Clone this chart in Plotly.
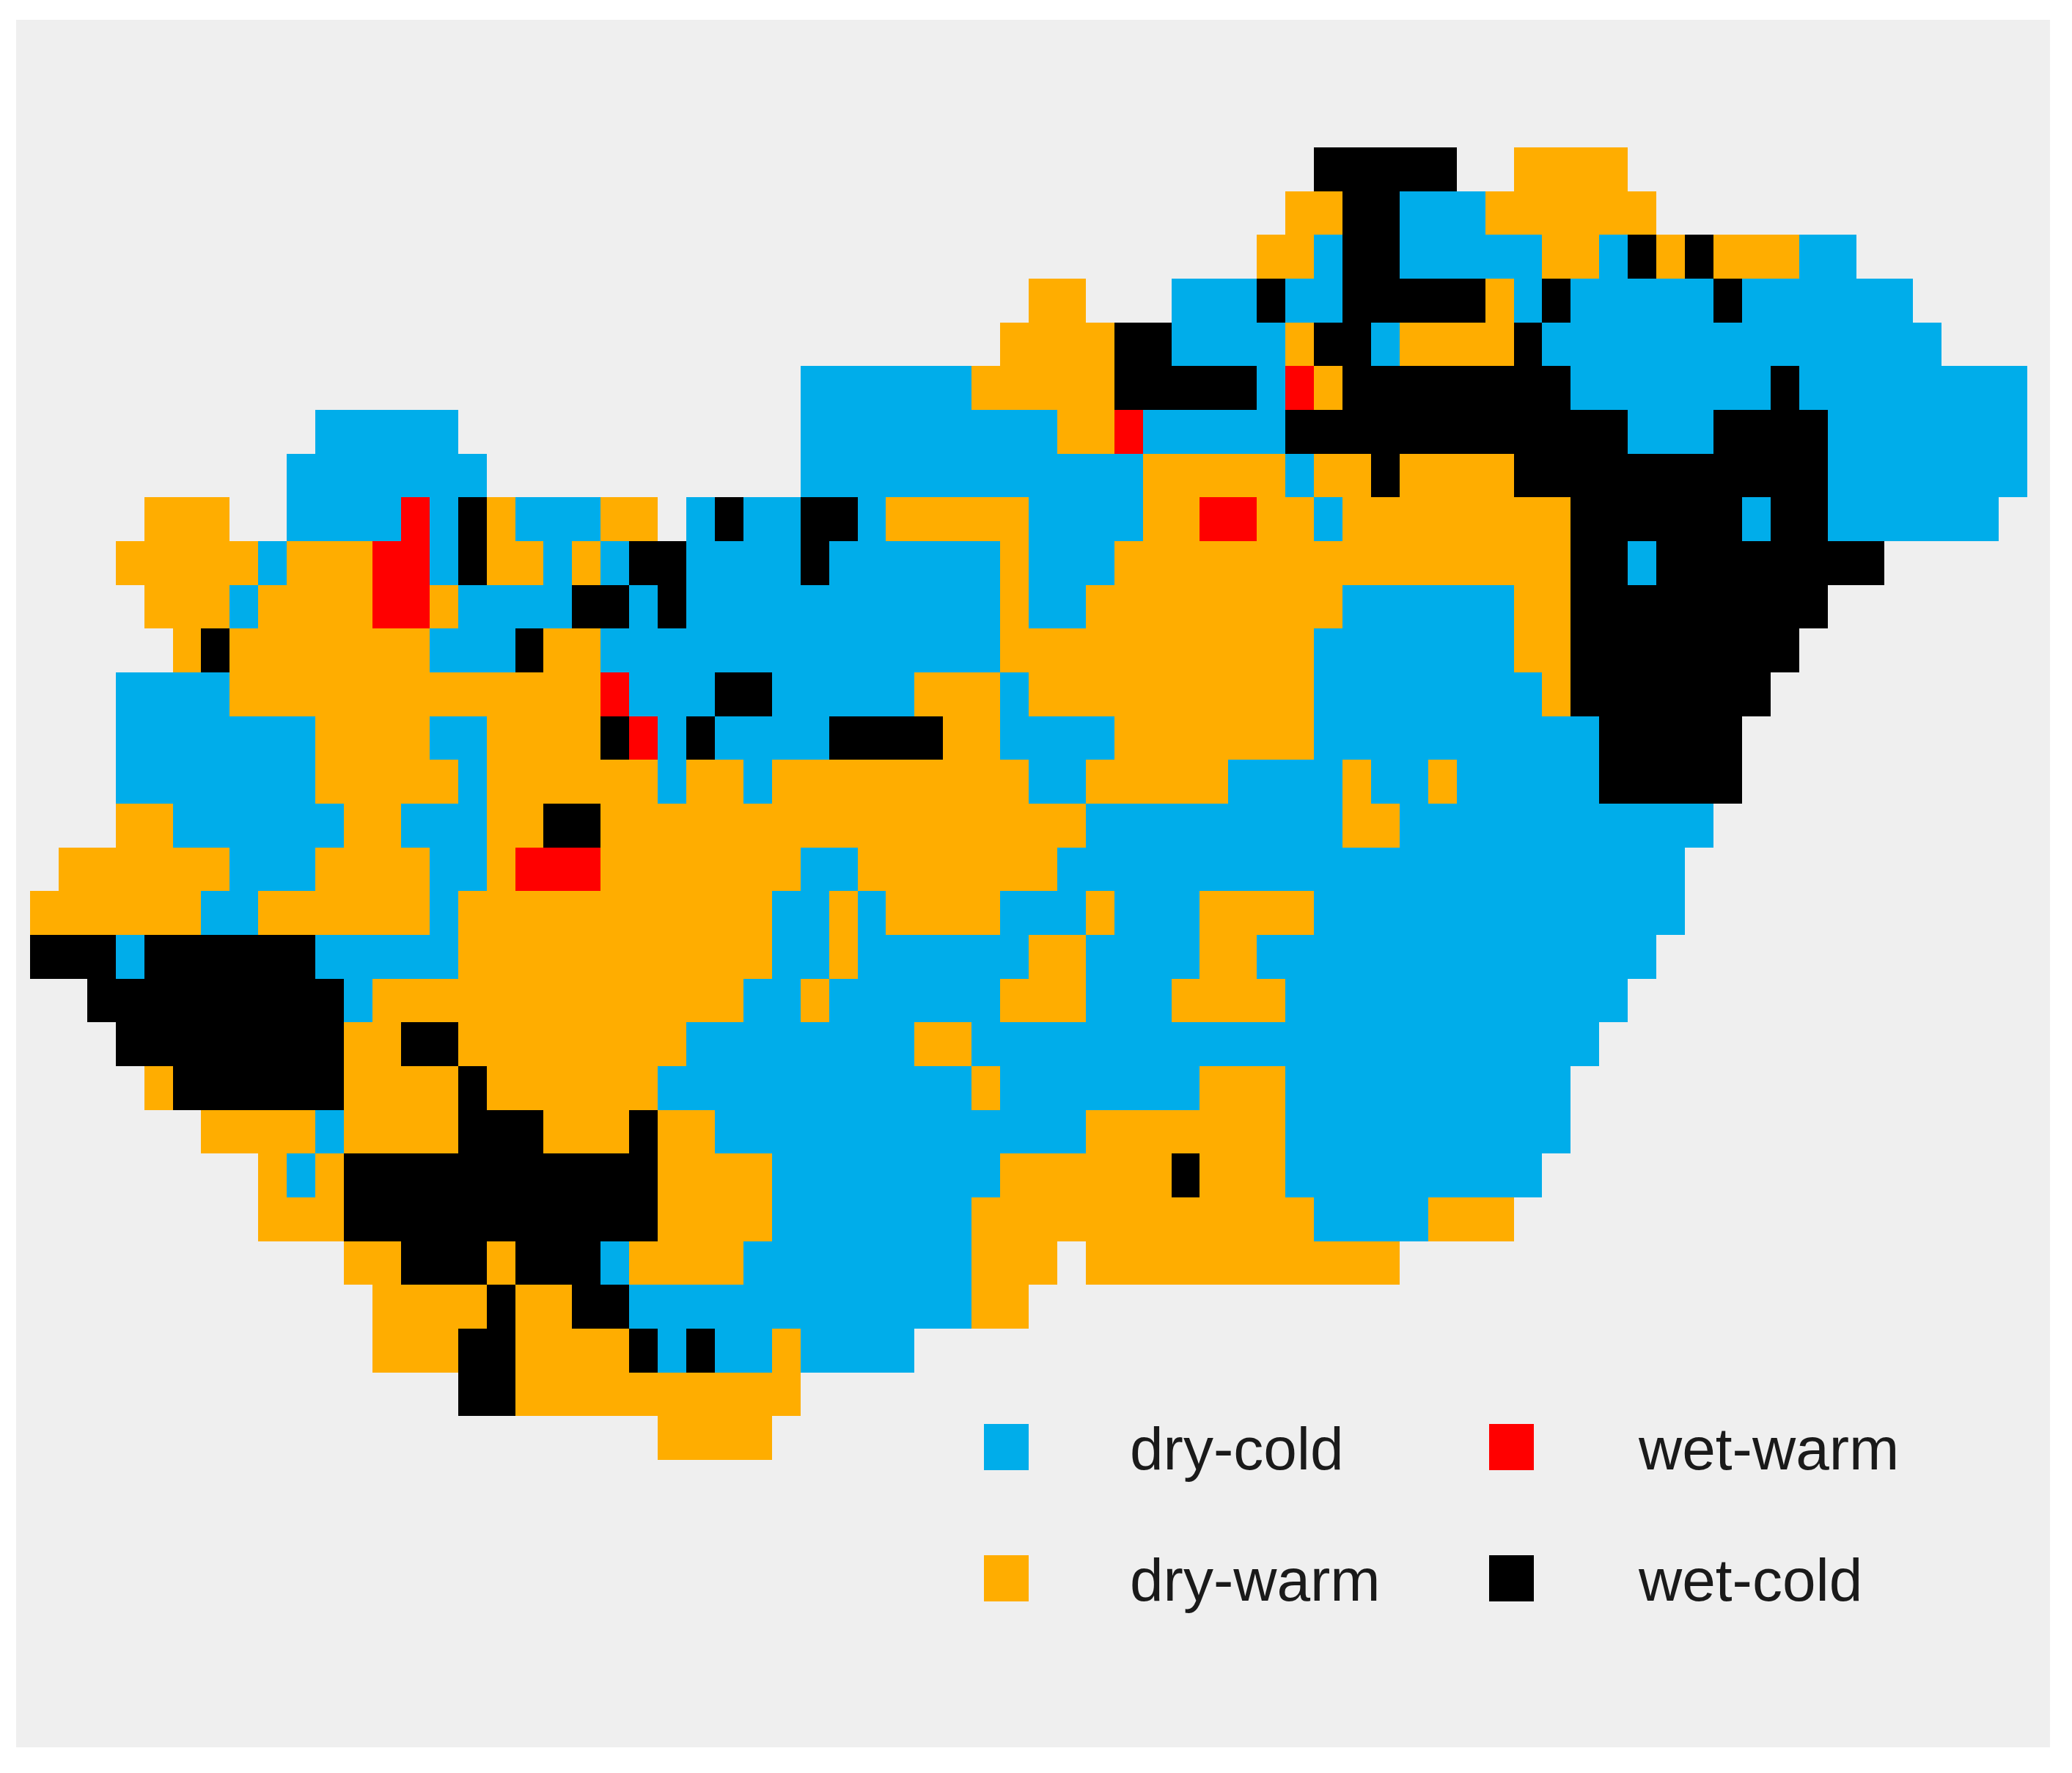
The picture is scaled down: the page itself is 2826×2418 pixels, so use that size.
"""Climate class grid of Hungary (dry/wet, cold/warm) as a categorical heatmap."""

import plotly.graph_objects as go

WIDTH, HEIGHT = 2826, 2418
NUM_COLS, NUM_ROWS = 70, 30

CATEGORIES = ['dry-cold', 'dry-warm', 'wet-warm', 'wet-cold']
CATEGORY_CODES = ['B', 'O', 'R', 'K']
CATEGORY_COLORS = ['#00ADEA', '#FFAD00', '#FF0000', '#000000']

# one string per grid row, top row first: <class code><first col>-<end col>
GRID_ROWS = [
    "K45-50 O52-56",
    "O44-46 K46-48 B48-51 O51-57",
    "O43-45 B45-46 K46-48 B48-53 O53-55 B55-56 K56-57 O57-58 K58-59 O59-62 B62-64",
    "O35-37 B40-43 K43-44 B44-46 K46-51 O51-52 B52-53 K53-54 B54-59 K59-60 B60-66",
    "O34-38 K38-40 B40-44 O44-45 K45-47 B47-48 O48-52 K52-53 B53-67",
    "B27-33 O33-38 K38-43 B43-44 R44-45 O45-46 K46-54 B54-61 K61-62 B62-70",
    "B10-15 B27-36 O36-38 R38-39 B39-44 K44-56 B56-59 K59-63 B63-70",
    "B9-16 B27-39 O39-44 B44-45 O45-47 K47-48 O48-52 K52-63 B63-70",
    "O4-7 B9-13 R13-14 B14-15 K15-16 O16-17 B17-19 B19-20 O20-22 B23-24 K24-25 B25-27 K27-29 B29-30 "
    "O30-35 B35-39 O39-41 R41-43 O43-45 B45-46 O46-54 K54-60 B60-61 K61-63 B63-69",
    "O3-8 B8-9 O9-12 R12-14 B14-15 K15-16 O16-18 B18-19 O19-20 B20-21 K21-23 B23-27 K27-28 B28-34 "
    "O34-35 B35-38 O38-54 K54-56 B56-57 K57-65",
    "O4-7 B7-8 O8-12 R12-14 O14-15 B15-19 K19-21 B21-22 K22-23 B23-34 O34-35 B35-37 O37-46 B46-52 "
    "O52-54 K54-63",
    "O5-6 K6-7 O7-14 B14-17 K17-18 O18-20 B20-34 O34-45 B45-52 O52-54 K54-62",
    "B3-7 O7-20 R20-21 B21-24 K24-26 B26-31 O31-34 B34-35 O35-45 B45-53 O53-54 K54-61",
    "B3-10 O10-14 B14-16 O16-20 K20-21 R21-22 B22-23 K23-24 B24-28 K28-32 O32-34 B34-38 O38-45 "
    "B45-55 K55-60",
    "B3-10 O10-15 B15-16 O16-22 B22-23 O23-25 B25-26 O26-35 B35-37 O37-42 B42-46 O46-47 B47-49 "
    "O49-50 B50-55 K55-60",
    "O3-5 B5-11 O11-13 B13-16 O16-18 K18-20 O20-37 B37-46 O46-48 B48-59",
    "O1-7 B7-10 O10-14 B14-16 O16-17 R17-20 O20-27 B27-29 O29-36 B36-58",
    "O0-6 B6-8 O8-14 B14-15 O15-26 B26-28 O28-29 B29-30 O30-34 B34-37 O37-38 B38-41 O41-45 B45-58",
    "K0-3 B3-4 K4-10 B10-15 O15-26 B26-28 O28-29 B29-35 O35-37 B37-41 O41-43 B43-57",
    "K2-11 B11-12 O12-25 B25-27 O27-28 B28-34 O34-37 B37-40 O40-44 B44-56",
    "K3-11 O11-13 K13-15 O15-23 B23-31 O31-33 B33-55",
    "O4-5 K5-11 O11-15 K15-16 O16-22 B22-33 O33-34 B34-41 O41-44 B44-54",
    "O6-10 B10-11 O11-15 K15-18 O18-21 K21-22 O22-24 B24-37 O37-44 B44-54",
    "O8-9 B9-10 O10-11 K11-22 O22-26 B26-34 O34-40 K40-41 O41-44 B44-53",
    "O8-11 K11-22 O22-26 B26-33 O33-45 B45-49 O49-52",
    "O11-13 K13-16 O16-17 K17-20 B20-21 O21-25 B25-33 O33-36 O37-48",
    "O12-16 K16-17 O17-19 K19-21 B21-33 O33-35",
    "O12-15 K15-17 O17-21 K21-22 B22-23 K23-24 B24-26 O26-27 B27-31",
    "K15-17 O17-27",
    "O22-26",
]


def parse_grid(rows):
    """Expand the run strings into a (rows, cols) list of class indices, None = outside."""
    grid = []
    for row in rows:
        cells = [None] * NUM_COLS
        for run in row.split():
            start, end = run[1:].split('-')
            for col in range(int(start), int(end)):
                cells[col] = CATEGORY_CODES.index(run[0])
        grid.append(cells)
    return grid


# panel and map edges in page pixels
PANEL_LEFT, PANEL_RIGHT, PANEL_TOP, PANEL_BOTTOM = 22, 2796, 27, 2383
MAP_LEFT, MAP_RIGHT, MAP_TOP, MAP_BOTTOM = 41, 2765, 201, 1991

cell_w = (MAP_RIGHT - MAP_LEFT) / NUM_COLS
cell_h = (MAP_BOTTOM - MAP_TOP) / NUM_ROWS


def page_x(px):
    return px / WIDTH


def page_y(py):
    return 1 - py / HEIGHT


z = parse_grid(GRID_ROWS)
num_classes = len(CATEGORIES)
colorscale = []
for i, color in enumerate(CATEGORY_COLORS):
    colorscale.append([i / num_classes, color])
    colorscale.append([(i + 1) / num_classes, color])

hover = [[CATEGORIES[v] if v is not None else '' for v in row] for row in z]

fig = go.Figure(go.Heatmap(
    z=z,
    zmin=-0.5, zmax=num_classes - 0.5,
    colorscale=colorscale,
    showscale=False,
    hoverongaps=False,
    customdata=hover,
    hovertemplate='%{customdata}<extra></extra>',
))

# legend keys are too large for a plotly legend, so drawn in page space
LEGEND_KEY_X = [1342, 1342, 2031, 2031]
LEGEND_KEY_Y = [1942, 2121, 1942, 2121]
LEGEND_TEXT_X = [1539, 1539, 2232, 2232]
KEY_W, KEY_H = 61, 63

for i in range(num_classes):
    fig.add_shape(
        type='rect', xref='paper', yref='paper', line_width=0,
        fillcolor=CATEGORY_COLORS[i],
        x0=page_x(LEGEND_KEY_X[i]), x1=page_x(LEGEND_KEY_X[i] + KEY_W),
        y0=page_y(LEGEND_KEY_Y[i] + KEY_H), y1=page_y(LEGEND_KEY_Y[i]),
    )
    fig.add_annotation(
        text=CATEGORIES[i], showarrow=False,
        xref='paper', yref='paper', xanchor='left', yanchor='middle',
        x=page_x(LEGEND_TEXT_X[i]), y=page_y(LEGEND_KEY_Y[i] + 33),
        font=dict(family='Liberation Sans', size=82, color='#1a1a1a'),
    )

fig.update_layout(
    width=WIDTH, height=HEIGHT,
    margin=dict(l=0, r=0, t=0, b=0),
    paper_bgcolor='white',
    plot_bgcolor='#EFEFEF',
    showlegend=False,
    xaxis=dict(
        visible=False,
        domain=[page_x(PANEL_LEFT), page_x(PANEL_RIGHT)],
        range=[-0.5 - (MAP_LEFT - PANEL_LEFT) / cell_w,
               NUM_COLS - 0.5 + (PANEL_RIGHT - MAP_RIGHT) / cell_w],
    ),
    yaxis=dict(
        visible=False,
        domain=[page_y(PANEL_BOTTOM), page_y(PANEL_TOP)],
        range=[NUM_ROWS - 0.5 + (PANEL_BOTTOM - MAP_BOTTOM) / cell_h,
               -0.5 - (MAP_TOP - PANEL_TOP) / cell_h],
    ),
)

fig.write_html("out.html", config=dict(displayModeBar=False),
               post_script="document.body.style.margin='0';document.body.style.overflow='hidden';")
